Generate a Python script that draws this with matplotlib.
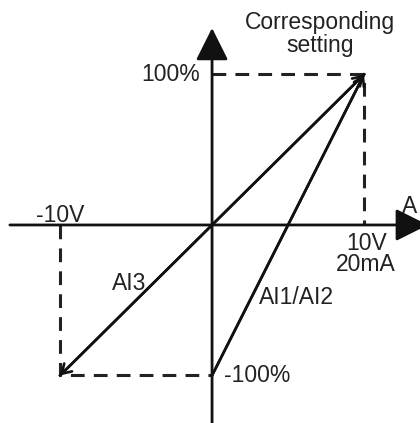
import matplotlib
matplotlib.use("Agg")
import matplotlib.pyplot as plt

# input (V) vs corresponding setting (%)
ai3_input = [-10, 0, 10]
ai3_setting = [-100, 0, 100]
ai12_input = [0, 10]
ai12_setting = [-100, 100]

x_min_label = "-10V"
x_max_label = ["10V", "20mA"]
y_labels = ["100%", "-100%"]

plt.rcParams['font.family'] = ['Liberation Sans', 'DejaVu Sans']

fig = plt.figure(figsize=(4.2, 4.23), dpi=100)
ax = fig.add_axes([0, 0, 1, 1])
ax.set_xlim(-13.95, 13.68)
ax.set_ylim(-131.6, 149.5)
ax.axis('off')

ink = '#111111'
txt = '#222222'

# axes with big arrow heads
big = dict(arrowstyle='-|>,head_length=0.4,head_width=0.2', mutation_scale=50,
           color=ink, lw=2.0, shrinkA=0, shrinkB=0)
ax.annotate('', xy=(14.2, 0), xytext=(-13.3, 0), arrowprops=big, annotation_clip=False)
ax.annotate('', xy=(0, 130.9), xytext=(0, -135), arrowprops=big, annotation_clip=False)

# dashed guides
xmax, ymax = max(ai3_input), max(ai3_setting)
xmin, ymin = min(ai3_input), min(ai3_setting)
dash = dict(color='#222222', lw=2.2, ls=(0, (4.5, 3)))
ax.plot([0, xmax, xmax], [ymax, ymax, 0], **dash)
ax.plot([xmin, xmin, 0], [0, ymin, ymin], **dash)

# characteristic lines
ax.plot(ai3_input, ai3_setting, color=ink, lw=1.9)
ax.plot(ai12_input, ai12_setting, color=ink, lw=1.9)
small = dict(arrowstyle='->,head_length=0.4,head_width=0.25', mutation_scale=16,
             color=ink, lw=1.9, shrinkA=0, shrinkB=0)
ax.annotate('', xy=(ai3_input[-1], ai3_setting[-1]), xytext=(ai3_input[-2], ai3_setting[-2]), arrowprops=small)
ax.annotate('', xy=(ai3_input[0], ai3_setting[0]), xytext=(ai3_input[1], ai3_setting[1]), arrowprops=small)
ax.annotate('', xy=(ai12_input[-1], ai12_setting[-1]), xytext=(ai12_input[0], ai12_setting[0]), arrowprops=small)

fs = 16.5
ax.text(7.1, 126.6, "Corresponding\nsetting", ha='center', va='center', fontsize=fs,
        color=txt, linespacing=1.0)
ax.text(-0.79, 100, y_labels[0], ha='right', va='center', fontsize=fs, color=txt)
ax.text(0.79, -100.3, y_labels[1], ha='left', va='center', fontsize=fs, color=txt)
ax.text(-10, 6.6, x_min_label, ha='center', va='center', fontsize=fs, color=txt)
ax.text(10.2, -12, x_max_label[0], ha='center', va='center', fontsize=fs, color=txt)
ax.text(10.1, -26.6, x_max_label[1], ha='center', va='center', fontsize=fs, color=txt)
ax.text(-5.46, -39.2, "AI3", ha='center', va='center', fontsize=fs, color=txt)
ax.text(5.53, -48.5, "AI1/AI2", ha='center', va='center', fontsize=fs, color=txt)
ax.text(13.0, 12.6, "A", ha='center', va='center', fontsize=fs, color=txt)

fig.savefig("out.png", dpi=100)
